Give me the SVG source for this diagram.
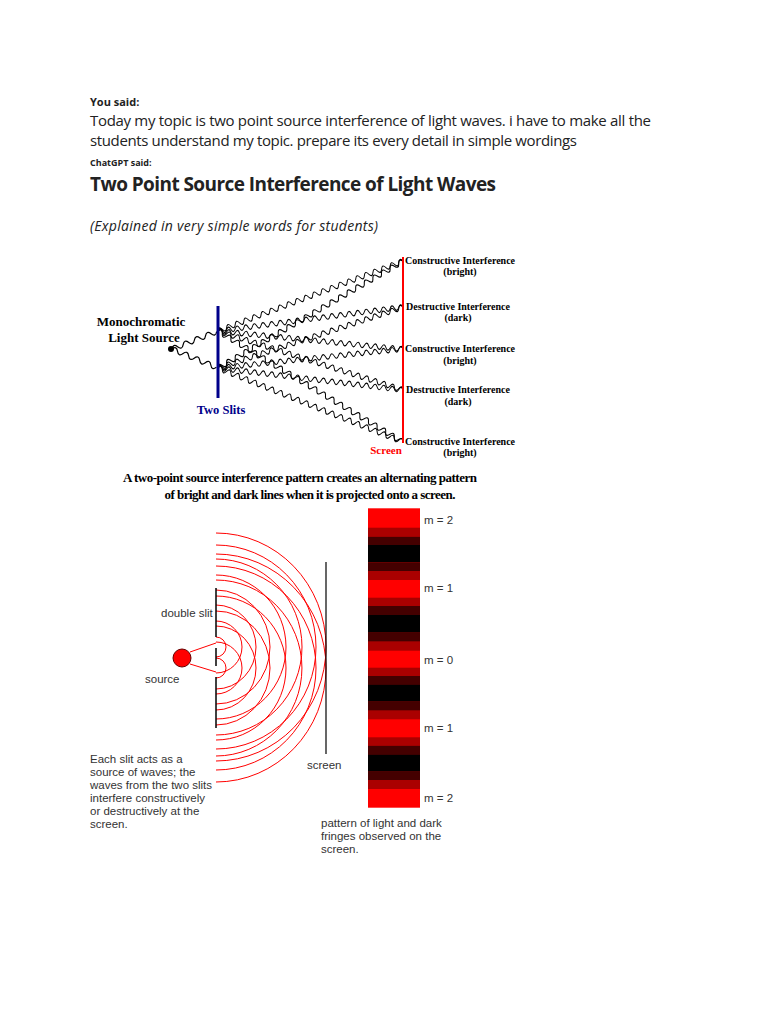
<svg xmlns="http://www.w3.org/2000/svg" width="768" height="1024" viewBox="0 0 768 1024">
<style>
.ui{font-family:"Open Sans","Liberation Sans",sans-serif;fill:#222}
.sr{font-family:"Liberation Serif",serif;font-weight:bold;fill:#000}
.ar{font-family:"Liberation Sans",Arial,sans-serif;font-size:11.5px;fill:#333}
.wv{fill:none;stroke:#000;stroke-width:1.2}
.arc{fill:none;stroke:#f00;stroke-width:1}
</style>
<defs>
<path id="w" d="M0 0 q3 -5 6 0 t6 0 t6 0 t6 0 t6 0 t6 0 t6 0 t6 0 t6 0 t6 0 t6 0 t6 0 t6 0 t6 0 t6 0 t6 0 t6 0 t6 0 t6 0 t6 0 t6 0 t6 0 t6 0 t6 0 t6 0 t6 0 t6 0 t6 0 t6 0 t6 0 t6 0 t6 0 t6 0 t6 0 t6 0 t6 0 t6 0 t6 0 t6 0 t6 0 t6 0 t6 0 t6 0"/>
<path id="ws" d="M0 0 q3 -5 6 0 t6 0 t6 0 t6 0 t6 0 t6 0 t6 0 t6 0"/>
</defs>
<rect width="768" height="1024" fill="#fff"/>
<text x="90" y="106" class="ui" font-size="11" font-weight="bold">You said:</text>
<text x="90" y="126" class="ui" font-size="15" textLength="561">Today my topic is two point source interference of light waves. i have to make all the</text>
<text x="90" y="146" class="ui" font-size="15" textLength="487">students understand my topic. prepare its every detail in simple wordings</text>
<text x="90" y="166" class="ui" font-size="9" font-weight="bold">ChatGPT said:</text>
<text x="90" y="191" class="ui" font-size="19" font-weight="bold" textLength="406" fill="#111">Two Point Source Interference of Light Waves</text>
<text x="90" y="231" class="ui" font-size="14" font-style="italic" textLength="288">(Explained in very simple words for students)</text>

<g id="connectors">
<g class="wv">
<use href="#ws" transform="translate(172,349) rotate(-21.4)"/>
<use href="#ws" transform="translate(172,349) rotate(22.4)"/>
<use href="#w" transform="translate(218,331) rotate(-20.7) scale(0.767,1)"/>
<use href="#w" transform="translate(218,331) rotate(-7.4) scale(0.723,1)"/>
<use href="#w" transform="translate(218,331) rotate(5.6) scale(0.721,1)"/>
<use href="#w" transform="translate(218,331) rotate(17.7) scale(0.753,1)"/>
<use href="#w" transform="translate(218,331) rotate(31) scale(0.836,1)"/>
<use href="#w" transform="translate(218,368) rotate(-30) scale(0.828,1)"/>
<use href="#w" transform="translate(218,368) rotate(-18.2) scale(0.755,1)"/>
<use href="#w" transform="translate(218,368) rotate(-5.9) scale(0.721,1)"/>
<use href="#w" transform="translate(218,368) rotate(6.8) scale(0.722,1)"/>
<use href="#w" transform="translate(218,368) rotate(21.8) scale(0.772,1)"/>
</g>
<line x1="190" y1="652" x2="216" y2="643" stroke="#f00"/>
<line x1="190" y1="664" x2="216" y2="672" stroke="#f00"/>
</g>

<g id="top-diagram">
<circle cx="171" cy="349" r="3" fill="#000"/>
<line x1="218" y1="306" x2="218" y2="398" stroke="#00008b" stroke-width="3"/>
<line x1="403" y1="257" x2="403" y2="443" stroke="#f00" stroke-width="2"/>
<text x="141" y="326" class="sr" font-size="13" text-anchor="middle">Monochromatic</text>
<text x="144" y="342" class="sr" font-size="13" text-anchor="middle">Light Source</text>
<text x="221" y="414" class="sr" font-size="12.5" text-anchor="middle" style="fill:#00008b">Two Slits</text>
<text x="386" y="454" class="sr" font-size="11" text-anchor="middle" style="fill:#f00">Screen</text>
<g class="sr" text-anchor="middle" font-size="10">
<text x="460" y="264">Constructive Interference</text><text x="460" y="275">(bright)</text>
<text x="458" y="310">Destructive Interference</text><text x="458" y="321">(dark)</text>
<text x="460" y="352">Constructive Interference</text><text x="460" y="364">(bright)</text>
<text x="458" y="393">Destructive Interference</text><text x="458" y="405">(dark)</text>
<text x="460" y="445">Constructive Interference</text><text x="460" y="456">(bright)</text>
</g>
<text x="300" y="482" class="sr" font-size="13" text-anchor="middle" textLength="354">A two-point source interference pattern creates an alternating pattern</text>
<text x="310" y="499" class="sr" font-size="13" text-anchor="middle" textLength="291">of bright and dark lines when it is projected onto a screen.</text>
</g>

<g id="waves">
<g class="arc">
<path d="M216 637 a10 10 0 0 1 0 20"/>
<path d="M216 658 a10 10 0 0 1 0 20"/>
<path d="M216 621 a26 26 0 0 1 0 52"/>
<path d="M216 642 a26 26 0 0 1 0 52"/>
<path d="M216 605 a40 42 0 0 1 0 84"/>
<path d="M216 626 a40 42 0 0 1 0 84"/>
<path d="M216 590 a54 57 0 0 1 0 114"/>
<path d="M216 611 a54 57 0 0 1 0 114"/>
<path d="M216 575 a70 72 0 0 1 0 144"/>
<path d="M216 596 a70 72 0 0 1 0 144"/>
<path d="M216 559 a86 88 0 0 1 0 176"/>
<path d="M216 580 a86 88 0 0 1 0 176"/>
<path d="M216 545 a100 102 0 0 1 0 204"/>
<path d="M216 566 a100 102 0 0 1 0 204"/>
<path d="M216 533 a110 114 0 0 1 0 228"/>
<path d="M216 554 a110 114 0 0 1 0 228"/>
</g>
</g>
<g id="barrier" stroke="#000" stroke-width="1.5">
<line x1="216" y1="588" x2="216" y2="637"/>
<line x1="216" y1="648" x2="216" y2="666"/>
<line x1="216" y1="677" x2="216" y2="728"/>
</g>
<g id="source"><circle cx="182" cy="658" r="9" fill="#f00" stroke="#600"/></g>
<g id="screen"><line x1="326" y1="562" x2="326" y2="754" stroke="#000" stroke-width="1.2"/></g>
<g id="fringes">
<rect x="368" y="508.3" width="52" height="299.4" fill="#f00"/>
<g>
<rect x="368" y="527.7" width="52" height="9" fill="#a00"/><rect x="368" y="536.7" width="52" height="8.3" fill="#400"/><rect x="368" y="545" width="52" height="17.3" fill="#000"/><rect x="368" y="562.3" width="52" height="8.7" fill="#400"/><rect x="368" y="571" width="52" height="9" fill="#a00"/>
<rect x="368" y="597.7" width="52" height="8.3" fill="#a00"/><rect x="368" y="606" width="52" height="9" fill="#400"/><rect x="368" y="615" width="52" height="17.7" fill="#000"/><rect x="368" y="632.7" width="52" height="9" fill="#400"/><rect x="368" y="641.7" width="52" height="9" fill="#a00"/>
<rect x="368" y="667.7" width="52" height="8.3" fill="#a00"/><rect x="368" y="676" width="52" height="8.3" fill="#400"/><rect x="368" y="684.3" width="52" height="17.4" fill="#000"/><rect x="368" y="701.7" width="52" height="9" fill="#400"/><rect x="368" y="710.7" width="52" height="8.6" fill="#a00"/>
<rect x="368" y="737.3" width="52" height="8.4" fill="#a00"/><rect x="368" y="745.7" width="52" height="8.6" fill="#400"/><rect x="368" y="754.3" width="52" height="17.4" fill="#000"/><rect x="368" y="771.7" width="52" height="8.3" fill="#400"/><rect x="368" y="780" width="52" height="9" fill="#a00"/>
</g>
</g>
<g id="labels" class="ar">
<text x="424" y="524">m = 2</text>
<text x="424" y="592">m = 1</text>
<text x="424" y="664">m = 0</text>
<text x="424" y="732">m = 1</text>
<text x="424" y="802">m = 2</text>
<text x="161" y="617">double slit</text>
<text x="145" y="683">source</text>
<text x="307" y="769">screen</text>
<text x="90" y="763">Each slit acts as a</text>
<text x="90" y="776">source of waves; the</text>
<text x="90" y="789">waves from the two slits</text>
<text x="90" y="802">interfere constructively</text>
<text x="90" y="815">or destructively at the</text>
<text x="90" y="828">screen.</text>
<text x="321" y="827">pattern of light and dark</text>
<text x="321" y="840">fringes observed on the</text>
<text x="321" y="853">screen.</text>
</g>
</svg>
